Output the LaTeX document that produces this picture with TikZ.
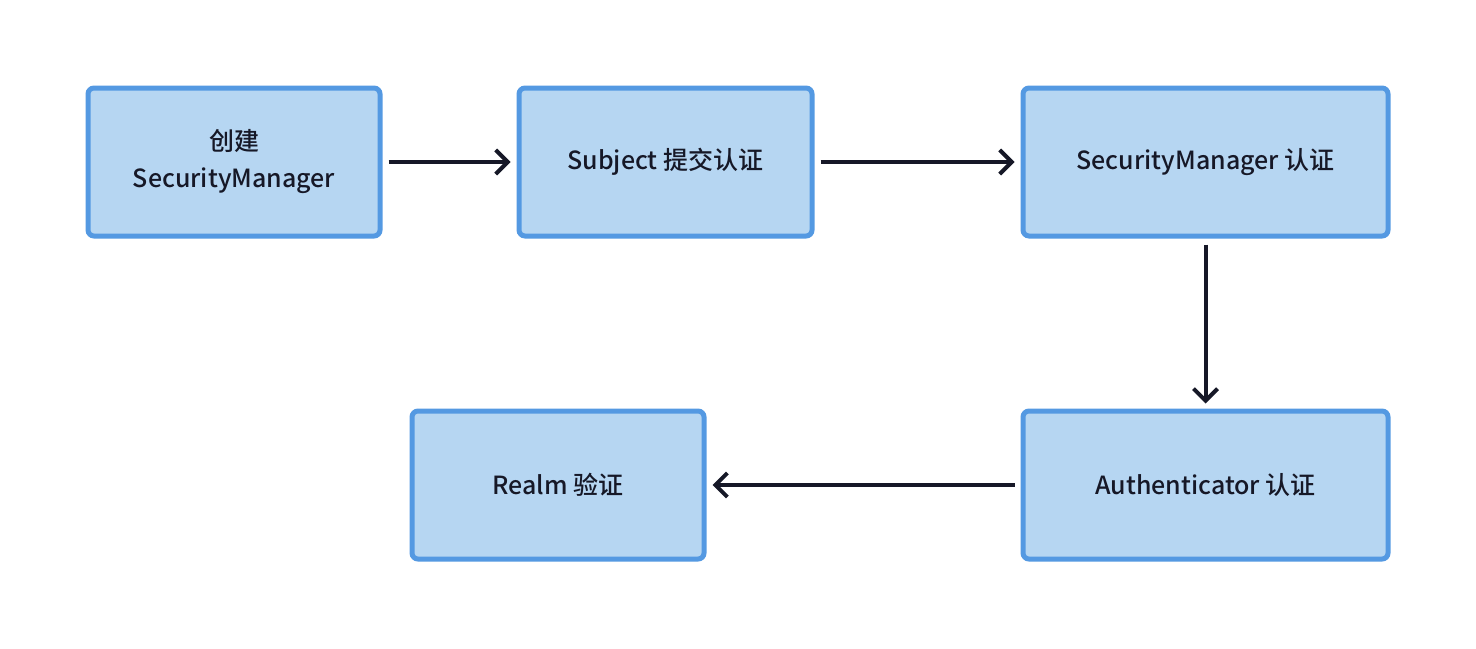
\documentclass[tikz,border=0pt]{standalone}
\usepackage{fontspec}
\setmainfont{Noto Sans CJK SC}[UprightFont={* Medium}]
\usetikzlibrary{arrows.meta,shadows}
\definecolor{boxfill}{HTML}{B6D6F2}
\definecolor{boxline}{HTML}{5499E2}
\definecolor{arrowcol}{HTML}{161827}
\tikzset{
  stepbox/.style={draw=boxline, fill=boxfill, line width=2.5pt, rounded corners=3pt,
    align=center, font=\fontsize{12.5pt}{18.5pt}\selectfont, text=arrowcol,
    drop shadow={shadow xshift=0pt, shadow yshift=-1pt, opacity=0.12}},
  flow/.style={draw=arrowcol, line width=2pt, -{Straight Barb[length=6pt, width=12pt, line width=2pt]}}
}
\begin{document}
\begin{tikzpicture}[x=0.5pt, y=-0.5pt]
\useasboundingbox (0,0) rectangle (1476,648);
\node[stepbox, minimum width=146pt, minimum height=74pt] (create) at (234,162){创建\\SecurityManager};
\node[stepbox, minimum width=146.5pt, minimum height=74pt] (subject) at (665.5,162){Subject 提交认证};
\node[stepbox, minimum width=182.5pt, minimum height=74pt] (secmgr) at (1205.5,162){SecurityManager 认证};
\node[stepbox, minimum width=182.5pt, minimum height=74pt] (auth) at (1205.5,485){Authenticator 认证};
\node[stepbox, minimum width=146pt, minimum height=74pt] (realm) at (558,485){Realm 验证};
\draw[flow] ([xshift=3pt]create.east) -- ([xshift=-3pt]subject.west);
\draw[flow] ([xshift=3pt]subject.east) -- ([xshift=-3pt]secmgr.west);
\draw[flow] ([yshift=-3pt]secmgr.south) -- ([yshift=2.5pt]auth.north);
\draw[flow] ([xshift=-3pt]auth.west) -- ([xshift=3pt]realm.east);
\end{tikzpicture}
\end{document}
